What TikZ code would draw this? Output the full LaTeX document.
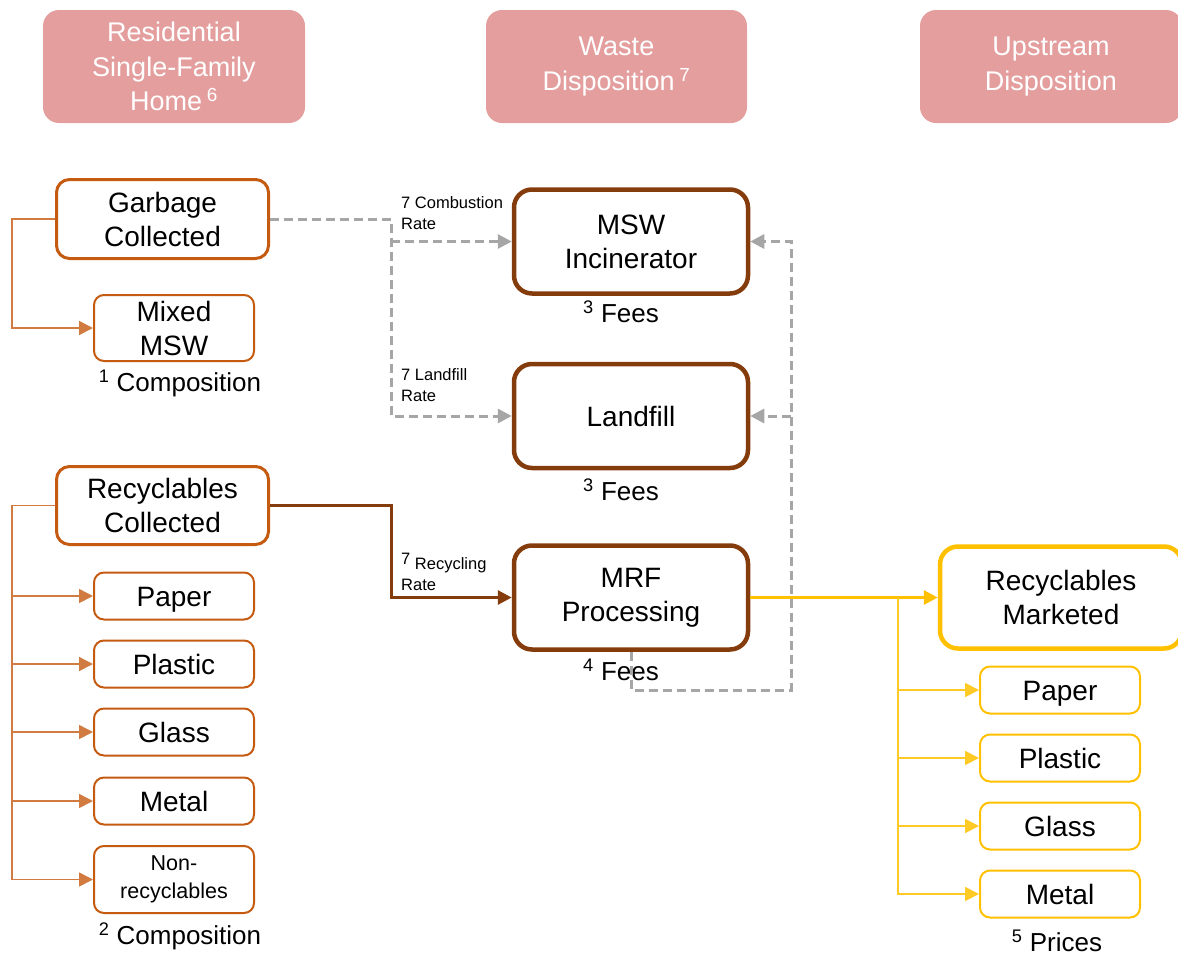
\documentclass[tikz,border=0pt]{standalone}
\usepackage{fontspec}
\setmainfont{Liberation Sans}
\usetikzlibrary{arrows.meta}
\definecolor{hdr}{HTML}{E49E9E}
\definecolor{org}{HTML}{C55A11}
\definecolor{brn}{HTML}{843C0C}
\definecolor{yel}{HTML}{FFC000}
\definecolor{gry}{HTML}{A6A6A6}
\begin{document}
\begin{tikzpicture}[x=1pt,y=-1pt,
  hdrbox/.style={fill=hdr, draw=none, rounded corners=16pt, text=white, align=center,
    font=\fontsize{27}{34.5}\selectfont, inner sep=0pt},
  obox/.style={draw=org, line width=3pt, rounded corners=13pt, fill=white, align=center,
    font=\fontsize{28}{34}\selectfont, inner sep=0pt},
  osub/.style={draw=org, line width=2pt, rounded corners=10pt, fill=white, align=center,
    font=\fontsize{28}{34}\selectfont, inner sep=0pt, minimum width=160pt, minimum height=47pt},
  bbox/.style={draw=brn, line width=4.5pt, rounded corners=18pt, fill=white, align=center,
    font=\fontsize{28}{34}\selectfont, inner sep=0pt, minimum width=234pt, minimum height=104pt},
  ybig/.style={draw=yel, line width=4.5pt, rounded corners=18pt, fill=white, align=center,
    font=\fontsize{28}{34}\selectfont, inner sep=0pt},
  ysub/.style={draw=yel, line width=2pt, rounded corners=10pt, fill=white, align=center,
    font=\fontsize{28}{34}\selectfont, inner sep=0pt, minimum width=160pt, minimum height=47pt},
  oneline/.style={text height=20pt, text depth=0pt},
  note/.style={font=\fontsize{26}{30}\selectfont, inner sep=0pt},
  small/.style={font=\fontsize{16.5}{20.5}\selectfont, align=left, inner sep=0pt, anchor=west},
  tip/.style={-{Triangle[length=14pt,width=14pt]}},
  othin/.style={draw=org!80, line width=1.6pt, tip},
  ythin/.style={draw=yel!85, line width=1.8pt, tip},
  gdash/.style={draw=gry, line width=3pt, dash pattern=on 9pt off 5pt, tip},
  bline/.style={draw=brn, line width=3pt, tip},
  yline/.style={draw=yel, line width=3pt, tip}
]
\useasboundingbox (0,0) rectangle (1178,956);
\clip (0,0) rectangle (1178,956);

% headers
\node[hdrbox, minimum width=262pt, minimum height=113pt] (h1) at (174,66.5)
  {Residential\\Single-Family\\Home\,\textsuperscript{6}};
\node[hdrbox, minimum width=261pt, minimum height=113pt] (h2) at (616.5,66.5)
  {Waste\\Disposition\,\textsuperscript{7}};
\node[hdrbox, minimum width=262pt, minimum height=113pt] (h3) at (1051,66.5)
  {Upstream\\Disposition};

% left column
\node[obox, minimum width=212pt, minimum height=79pt] (garb) at (162.5,219) {Garbage\\Collected};
\node[osub, minimum height=66pt] (mixed) at (174,328) {Mixed\\MSW};
\node[note] (comp1) at (180,383) {\textsuperscript{1} Composition};

\node[obox, minimum width=212pt, minimum height=78pt] (rc) at (162.5,505.5) {Recyclables\\Collected};
\node[osub, oneline] (paper) at (174,596) {Paper};
\node[osub, oneline] (plastic) at (174,664) {Plastic};
\node[osub, oneline] (glass) at (174,732) {Glass};
\node[osub, oneline] (metal) at (174,801) {Metal};
\node[osub, minimum height=67pt, font=\fontsize{21.5}{28}\selectfont] (nonrec) at (174,879.5) {Non-\\recyclables};
\node[note] (comp2) at (180,936) {\textsuperscript{2} Composition};

% middle column
\node[bbox] (inc) at (631,241.5) {MSW\\Incinerator};
\node[note] (fees1) at (621,312) {\textsuperscript{3} Fees};
\node[bbox, oneline] (land) at (631,416) {Landfill};
\node[note] (fees2) at (621,490) {\textsuperscript{3} Fees};
\node[bbox] (mrf) at (631,597.5) {MRF\\Processing};
\node[note] (fees3) at (621,670) {\textsuperscript{4} Fees};

% right column
\node[ybig, minimum width=242pt, minimum height=102pt] (mkt) at (1061,597.5) {Recyclables\\Marketed};
\node[ysub, oneline] (rpaper) at (1060,690) {Paper};
\node[ysub, oneline] (rplastic) at (1060,758) {Plastic};
\node[ysub, oneline] (rglass) at (1060,826) {Glass};
\node[ysub, oneline] (rmetal) at (1060,894) {Metal};
\node[note] (prices) at (1057,941) {\textsuperscript{5} Prices};

% edge labels
\node[small] (lcomb) at (401,213) {7 Combustion\\Rate};
\node[small] (lland) at (401,385) {7 Landfill\\Rate};
\node[small] (lrec) at (401,572) {\raisebox{5pt}{7} Recycling\\Rate};

% coordinates
\coordinate (lg) at (12,328);
\coordinate (l1) at (12,596);
\coordinate (l2) at (12,664);
\coordinate (l3) at (12,732);
\coordinate (l4) at (12,801);
\coordinate (l5) at (12,879.5);
\coordinate (ga) at (391,241.5);
\coordinate (gb) at (391,416);
\coordinate (cb) at (391,597.5);
\coordinate (rb) at (791,690);
\coordinate (rl) at (791,416);
\coordinate (yb) at (898,597.5);

% left brackets
\draw[othin] (garb.west) -| (lg) -- (mixed.west);
\draw[othin] (rc.west) -| (l5) -- (nonrec.west);
\draw[othin] (l1) -- (paper.west);
\draw[othin] (l2) -- (plastic.west);
\draw[othin] (l3) -- (glass.west);
\draw[othin] (l4) -- (metal.west);

% gray dashed
\draw[gdash] (garb.east) -| (gb) -- (land.west);
\draw[gdash] (ga) -- (inc.west);
\draw[gdash] (mrf.south) |- (rb) |- (inc.east);
\draw[gdash] (rl) -- (land.east);

% brown
\draw[bline] (rc.east) -| (cb) -- (mrf.west);

% yellow
\draw[yline] (mrf.east) -- (mkt.west);
\draw[ythin] (yb) |- (rmetal.west);
\draw[ythin] (yb) |- (rpaper.west);
\draw[ythin] (yb) |- (rplastic.west);
\draw[ythin] (yb) |- (rglass.west);
\end{tikzpicture}
\end{document}
